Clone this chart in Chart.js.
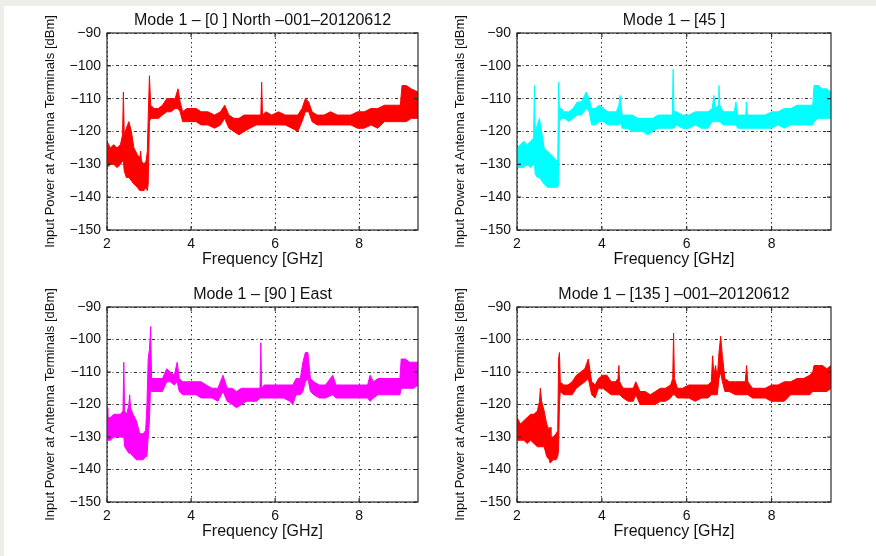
<!DOCTYPE html>
<html>
<head>
<meta charset="utf-8">
<script src="https://cdn.jsdelivr.net/npm/chart.js@4.4.1/dist/chart.umd.min.js"></script>
<style>
  html, body { margin: 0; padding: 0; }
  body { width: 876px; height: 556px; background: #eeeee8; position: relative; overflow: hidden; }
  #page { position: absolute; left: 4px; top: 6px; right: 0; bottom: 0; background: #fff; }
  canvas { position: absolute; }
</style>
</head>
<body>
<div id="page"></div>
<canvas id="c0" width="410" height="270" style="left:20px;top:6px"></canvas>
<canvas id="c45" width="413" height="270" style="left:430px;top:6px"></canvas>
<canvas id="c90" width="410" height="268" style="left:20px;top:280px"></canvas>
<canvas id="c135" width="413" height="268" style="left:430px;top:280px"></canvas>
<script>
// axes
const xTicks = [2, 4, 6, 8];
const yTicks = [-90, -100, -110, -120, -130, -140, -150];
const xTitle = 'Frequency [GHz]';
const yTitle = 'Input Power at Antenna Terminals [dBm]';
const FONT = '"Liberation Sans", Arial, sans-serif';

// 0 deg North - upper / lower edge of the noisy trace (dBm)
const freq0 = [
  2.00, 2.08, 2.16, 2.24, 2.32, 2.37, 2.39, 2.41, 2.46, 2.52,
  2.58, 2.64, 2.72, 2.78, 2.80, 2.82, 2.88, 2.93, 2.96, 2.98,
  3.01, 3.04, 3.12, 3.22, 3.32, 3.42, 3.52, 3.62, 3.69, 3.74,
  3.80, 3.90, 4.00, 4.12, 4.24, 4.40, 4.56, 4.70, 4.80, 4.90,
  5.02, 5.14, 5.26, 5.40, 5.55, 5.66, 5.68, 5.70, 5.78, 5.92,
  6.08, 6.24, 6.40, 6.54, 6.64, 6.72, 6.80, 6.88, 7.00, 7.16,
  7.32, 7.48, 7.64, 7.80, 7.96, 8.12, 8.28, 8.44, 8.60, 8.76,
  8.92, 8.98, 9.02, 9.12, 9.24, 9.40];
const hi0 = [
  -123, -125, -124, -125, -124, -121, -108, -121, -119, -117,
  -120, -125, -127, -128, -126, -129, -130, -129, -126, -116,
  -103, -112, -113, -113, -112, -110, -110, -110, -107, -111,
  -114, -113, -113, -113, -114, -114, -115, -114, -112, -115,
  -116, -116, -115, -115, -115, -115, -105, -115, -114, -115,
  -114, -115, -115, -115, -113, -110, -111, -114, -115, -115,
  -114, -115, -115, -115, -114, -114, -113, -113, -112, -112,
  -112, -112, -106, -106, -107, -108];
const lo0 = [
  -131, -130, -130, -131, -130, -129, -129, -132, -134, -134,
  -135, -136, -137, -138, -138, -138, -138, -137, -138, -136,
  -117, -116, -116, -116, -115, -114, -114, -113, -113, -114,
  -117, -117, -117, -117, -118, -118, -119, -118, -116, -119,
  -120, -121, -120, -119, -118, -118, -118, -118, -118, -118,
  -118, -118, -119, -120, -117, -114, -114, -117, -118, -118,
  -118, -118, -118, -118, -119, -119, -118, -119, -117, -117,
  -117, -117, -117, -117, -116, -116];

// 45 deg
const freq45 = [
  2.00, 2.08, 2.16, 2.24, 2.32, 2.39, 2.41, 2.43, 2.48, 2.53,
  2.58, 2.64, 2.72, 2.80, 2.88, 2.94, 2.96, 2.98, 3.00, 3.04,
  3.12, 3.22, 3.32, 3.42, 3.52, 3.63, 3.70, 3.76, 3.84, 3.94,
  4.04, 4.14, 4.24, 4.34, 4.40, 4.43, 4.48, 4.60, 4.72, 4.84,
  4.96, 5.08, 5.20, 5.32, 5.44, 5.56, 5.66, 5.68, 5.70, 5.76,
  5.90, 6.05, 6.20, 6.35, 6.50, 6.60, 6.64, 6.68, 6.74, 6.76,
  6.78, 6.86, 7.00, 7.12, 7.16, 7.20, 7.30, 7.39, 7.41, 7.43,
  7.55, 7.70, 7.85, 8.00, 8.15, 8.30, 8.45, 8.60, 8.75, 8.90,
  8.97, 9.00, 9.10, 9.20, 9.30, 9.40];
const hi45 = [
  -125, -124, -123, -124, -123, -122, -106, -120, -118, -116,
  -120, -125, -126, -127, -128, -129, -129, -105, -113, -113,
  -114, -114, -113, -111, -111, -108, -110, -113, -113, -112,
  -113, -114, -114, -114, -112, -109, -115, -115, -115, -116,
  -116, -116, -116, -115, -115, -115, -115, -101, -114, -114,
  -115, -115, -114, -114, -114, -113, -109, -113, -112, -106,
  -112, -114, -114, -114, -111, -115, -115, -115, -111, -115,
  -115, -115, -115, -114, -114, -113, -113, -112, -112, -112,
  -112, -106, -106, -107, -107, -108];
const lo45 = [
  -131, -131, -131, -130, -131, -130, -130, -133, -134, -134,
  -135, -136, -137, -137, -137, -137, -137, -136, -117, -116,
  -116, -117, -116, -115, -115, -113, -114, -118, -118, -117,
  -117, -118, -118, -118, -118, -117, -119, -119, -120, -120,
  -120, -121, -120, -119, -119, -119, -119, -119, -119, -118,
  -119, -119, -118, -119, -119, -117, -117, -117, -117, -117,
  -117, -118, -118, -118, -118, -119, -119, -119, -119, -119,
  -119, -119, -119, -119, -118, -119, -118, -118, -118, -118,
  -118, -117, -116, -116, -116, -116];

// 90 deg East
const freq90 = [
  2.00, 2.02, 2.08, 2.16, 2.24, 2.32, 2.38, 2.40, 2.42, 2.47,
  2.52, 2.54, 2.56, 2.62, 2.70, 2.78, 2.86, 2.92, 2.95, 2.98,
  3.01, 3.04, 3.06, 3.12, 3.22, 3.32, 3.42, 3.50, 3.60, 3.67,
  3.72, 3.80, 3.90, 4.00, 4.12, 4.24, 4.36, 4.50, 4.64, 4.76,
  4.86, 4.98, 5.08, 5.20, 5.32, 5.44, 5.56, 5.64, 5.66, 5.68,
  5.74, 5.90, 6.05, 6.20, 6.35, 6.42, 6.50, 6.60, 6.66, 6.72,
  6.78, 6.84, 6.92, 7.05, 7.20, 7.37, 7.45, 7.60, 7.75, 7.90,
  8.05, 8.20, 8.26, 8.34, 8.45, 8.60, 8.75, 8.90, 8.97, 9.00,
  9.10, 9.20, 9.30, 9.40];
const hi90 = [
  -121, -124, -124, -123, -123, -123, -122, -107, -122, -123,
  -120, -117, -121, -123, -125, -129, -129, -128, -120, -106,
  -103, -96, -112, -112, -112, -112, -109, -110, -111, -107,
  -112, -113, -113, -113, -113, -113, -114, -115, -115, -111,
  -115, -115, -116, -115, -115, -115, -115, -115, -101, -115,
  -114, -114, -114, -114, -114, -114, -112, -112, -107, -104,
  -104, -112, -113, -114, -114, -111, -114, -114, -114, -114,
  -114, -114, -111, -113, -112, -112, -112, -112, -112, -106,
  -106, -107, -107, -107];
const lo90 = [
  -130, -131, -131, -130, -130, -130, -130, -130, -133, -134,
  -135, -135, -135, -136, -137, -137, -137, -136, -136, -130,
  -125, -113, -116, -116, -116, -116, -113, -113, -114, -113,
  -116, -117, -117, -117, -117, -118, -118, -118, -119, -116,
  -119, -120, -121, -120, -119, -119, -119, -118, -118, -118,
  -118, -118, -118, -118, -119, -120, -117, -117, -116, -113,
  -112, -116, -117, -118, -118, -117, -118, -118, -118, -118,
  -118, -118, -119, -118, -117, -117, -117, -117, -117, -115,
  -115, -115, -115, -114];

// 135 deg
const freq135 = [
  2.00, 2.08, 2.16, 2.24, 2.32, 2.40, 2.48, 2.53, 2.55, 2.58,
  2.64, 2.70, 2.76, 2.78, 2.80, 2.86, 2.92, 2.96, 2.98, 3.00,
  3.02, 3.10, 3.20, 3.30, 3.40, 3.50, 3.60, 3.68, 3.76, 3.84,
  3.92, 4.02, 4.12, 4.22, 4.32, 4.38, 4.40, 4.42, 4.50, 4.62,
  4.74, 4.80, 4.90, 5.02, 5.14, 5.26, 5.38, 5.50, 5.62, 5.67,
  5.69, 5.71, 5.78, 5.90, 6.05, 6.20, 6.35, 6.50, 6.58, 6.61,
  6.64, 6.68, 6.72, 6.76, 6.80, 6.84, 6.90, 7.00, 7.15, 7.30,
  7.38, 7.41, 7.44, 7.55, 7.70, 7.85, 8.00, 8.15, 8.30, 8.45,
  8.60, 8.75, 8.90, 8.97, 9.00, 9.10, 9.20, 9.30, 9.40];
const hi135 = [
  -124, -126, -125, -124, -123, -123, -122, -119, -115, -119,
  -122, -126, -128, -127, -130, -130, -129, -128, -106, -104,
  -113, -114, -114, -113, -111, -110, -109, -106, -113, -114,
  -112, -111, -111, -113, -113, -112, -108, -113, -115, -115,
  -115, -113, -116, -116, -117, -116, -115, -115, -114, -112,
  -98, -112, -115, -115, -114, -114, -114, -114, -113, -105,
  -111, -108, -112, -104, -99, -105, -112, -113, -113, -113,
  -113, -108, -113, -115, -115, -115, -114, -114, -113, -113,
  -112, -112, -111, -110, -108, -108, -108, -109, -108];
const lo135 = [
  -131, -131, -131, -132, -131, -132, -133, -133, -133, -133,
  -133, -136, -137, -138, -138, -137, -137, -136, -134, -120,
  -116, -117, -117, -117, -115, -114, -113, -112, -117, -118,
  -115, -115, -116, -117, -117, -117, -117, -117, -118, -119,
  -119, -117, -120, -120, -120, -120, -119, -119, -118, -117,
  -117, -117, -118, -118, -118, -119, -118, -118, -117, -117,
  -117, -117, -117, -112, -110, -113, -116, -116, -117, -117,
  -117, -117, -117, -118, -118, -118, -119, -119, -119, -117,
  -117, -117, -117, -116, -116, -116, -116, -116, -115];

// MATLAB style closed box with inward ticks
const boxPlugin = {
  id: 'box',
  afterDraw(chart) {
    const { ctx, chartArea: a, scales } = chart;
    ctx.save();
    ctx.strokeStyle = '#2a2a2a';
    ctx.lineWidth = 1.2;
    ctx.strokeRect(a.left, a.top, a.right - a.left, a.bottom - a.top);
    ctx.beginPath();
    xTicks.forEach(v => {
      const px = scales.x.getPixelForValue(v);
      ctx.moveTo(px, a.bottom); ctx.lineTo(px, a.bottom - 4);
      ctx.moveTo(px, a.top); ctx.lineTo(px, a.top + 4);
    });
    yTicks.forEach(v => {
      const py = scales.y.getPixelForValue(v);
      ctx.moveTo(a.left, py); ctx.lineTo(a.left + 4, py);
      ctx.moveTo(a.right, py); ctx.lineTo(a.right - 4, py);
    });
    ctx.stroke();
    ctx.restore();
  }
};

function makePanel(id, title, freq, hi, lo, color) {
  new Chart(document.getElementById(id), {
    type: 'line',
    plugins: [boxPlugin],
    data: {
      datasets: [
        { data: freq.map((f, i) => ({ x: f, y: hi[i] })), borderColor: color, borderWidth: 1,
          pointRadius: 0, fill: false, tension: 0 },
        { data: freq.map((f, i) => ({ x: f, y: lo[i] })), borderColor: color, borderWidth: 1,
          pointRadius: 0, backgroundColor: color, fill: '-1', tension: 0 }
      ]
    },
    options: {
      responsive: false,
      animation: false,
      layout: { padding: { left: 7, right: 12, top: 0, bottom: 6 } },
      plugins: {
        legend: { display: false },
        tooltip: { enabled: false },
        title: {
          display: true, text: title, color: '#111', fullSize: false,
          font: { family: FONT, size: 16, weight: 'normal', lineHeight: 1.1 },
          padding: { top: 5.4, bottom: 4 }
        }
      },
      scales: {
        x: {
          type: 'linear', min: 2, max: 9.4,
          afterBuildTicks: s => { s.ticks = xTicks.map(v => ({ value: v })); },
          afterFit: s => { s.height = 40; },
          grid: { color: '#333', lineWidth: 1, drawTicks: false },
          border: { display: false, dash: [1.5, 3] },
          ticks: { color: '#111', padding: 6, maxRotation: 0, font: { family: FONT, size: 14 } },
          title: {
            display: true, text: xTitle, color: '#111',
            font: { family: FONT, size: 16, lineHeight: 1.1 }, padding: { top: 0, bottom: 2 }
          }
        },
        y: {
          min: -150, max: -90,
          afterBuildTicks: s => { s.ticks = yTicks.map(v => ({ value: v })); },
          afterFit: s => { s.width = 80; },
          grid: { color: '#333', lineWidth: 1, drawTicks: false },
          border: { display: false, dash: [3, 2.5, 1, 2.5] },
          ticks: {
            color: '#111', padding: 6, font: { family: FONT, size: 14 },
            callback: v => '\u2212' + Math.abs(v)
          },
          title: {
            display: true, text: yTitle, color: '#111',
            font: { family: FONT, size: 13, lineHeight: 1 }, padding: { top: 17, bottom: 0 }
          }
        }
      }
    }
  });
}

makePanel('c0', 'Mode 1 \u2013 [0 ] North \u2013001\u201320120612', freq0, hi0, lo0, '#ff0000');
makePanel('c45', 'Mode 1 \u2013 [45 ]', freq45, hi45, lo45, '#00ffff');
makePanel('c90', 'Mode 1 \u2013 [90 ] East', freq90, hi90, lo90, '#ff00ff');
makePanel('c135', 'Mode 1 \u2013 [135 ] \u2013001\u201320120612', freq135, hi135, lo135, '#ff0000');
</script>
</body>
</html>
